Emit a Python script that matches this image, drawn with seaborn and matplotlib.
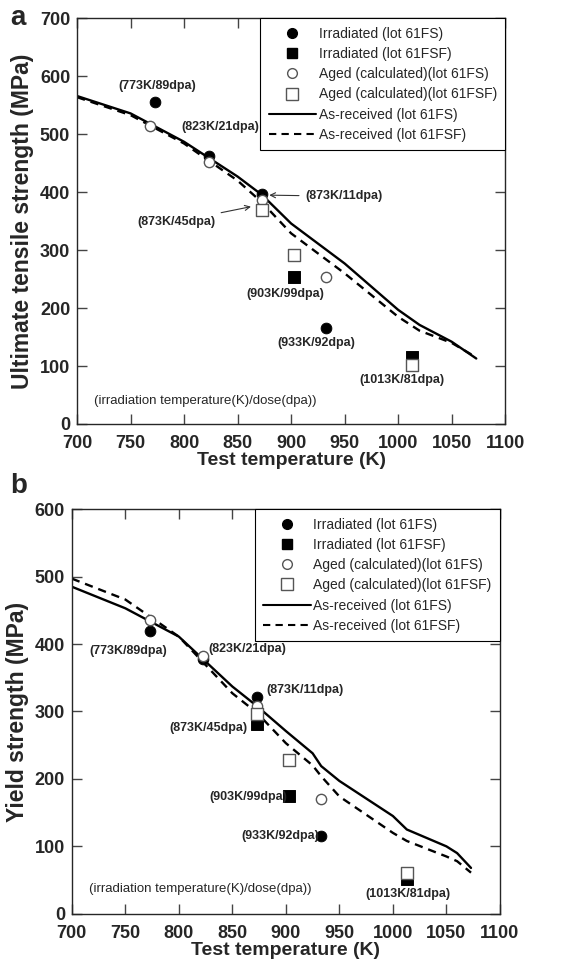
import numpy as np
import pandas as pd
import matplotlib
matplotlib.use("Agg")
import matplotlib.pyplot as plt
from matplotlib.lines import Line2D
import seaborn as sns

sns.set_style("ticks")
plt.rcParams['font.family'] = ['Liberation Sans', 'DejaVu Sans']

# ---- dados: painel a (UTS) ----
uts_T_curve = [700, 750, 800, 850, 873, 900, 950, 1000, 1020, 1050, 1073]
uts_fs_curve = [566, 536, 487, 427, 395, 346, 277, 197, 171, 142, 113]
uts_fsf_curve = [564, 533, 484, 420, 382, 329, 260, 185, 161, 140, 115]

uts_irr_fs_T = [773, 823, 873, 933]
uts_irr_fs = [555, 462, 397, 165]
uts_irr_fsf_T = [903, 1013]
uts_irr_fsf = [253, 115]
uts_aged_fs_T = [768, 823, 873, 933]
uts_aged_fs = [515, 453, 387, 253]
uts_aged_fsf_T = [873, 903, 1013]
uts_aged_fsf = [370, 292, 102]

# ---- dados: painel b (Yield) ----
ys_T_curve = [700, 750, 800, 850, 873, 900, 925, 933, 950, 1000, 1013, 1050, 1060, 1073]
ys_fs_curve = [485, 453, 411, 337, 308, 271, 238, 219, 197, 145, 125, 100, 90, 68]
ys_fsf_curve = [497, 466, 411, 327, 298, 253, 220, 204, 174, 120, 108, 85, 78, 61]

ys_irr_fs_T = [773, 823, 873, 933]
ys_irr_fs = [420, 378, 322, 115]
ys_irr_fsf_T = [873, 903, 1013]
ys_irr_fsf = [281, 175, 52]
ys_aged_fs_T = [773, 823, 873, 933]
ys_aged_fs = [436, 383, 308, 170]
ys_aged_fsf_T = [873, 903, 1013]
ys_aged_fsf = [296, 228, 60]

labels = ["Irradiated (lot 61FS)", "Irradiated (lot 61FSF)",
          "Aged (calculated)(lot 61FS)", "Aged (calculated)(lot 61FSF)",
          "As-received (lot 61FS)", "As-received (lot 61FSF)"]

notes_a = [("(773K/89dpa)", 775, 583), ("(823K/21dpa)", 834, 513),
           ("(903K/99dpa)", 895, 225), ("(933K/92dpa)", 924, 139),
           ("(1013K/81dpa)", 1004, 76)]
notes_b = [("(773K/89dpa)", 753, 389), ("(823K/21dpa)", 864, 392),
           ("(873K/11dpa)", 918, 332), ("(873K/45dpa)", 828, 276),
           ("(903K/99dpa)", 865, 173), ("(933K/92dpa)", 895, 115),
           ("(1013K/81dpa)", 1014, 29)]

fig = plt.figure(figsize=(5.84, 9.68), dpi=100)
ax_a = fig.add_axes([0.132, 0.562, 0.733, 0.419])
ax_b = fig.add_axes([0.123, 0.056, 0.733, 0.418])

open_ec = "#555555"


def painel(ax, T, fs, fsf, irr_fs, irr_fsf, aged_fs, aged_fsf, ymax, ylabel):
    curves = pd.DataFrame({"T": T, "fs": fs, "fsf": fsf})
    sns.lineplot(data=curves, x="T", y="fs", ax=ax, color="k", lw=1.7)
    sns.lineplot(data=curves, x="T", y="fsf", ax=ax, color="k", lw=1.7,
                 linestyle=(0, (3.5, 2.5)))
    sns.scatterplot(x=aged_fs[0], y=aged_fs[1], ax=ax, marker="o", s=55,
                    facecolor="white", edgecolor=open_ec, linewidth=1.0, zorder=3)
    sns.scatterplot(x=aged_fsf[0], y=aged_fsf[1], ax=ax, marker="s", s=75,
                    facecolor="white", edgecolor=open_ec, linewidth=1.0, zorder=3)
    sns.scatterplot(x=irr_fs[0], y=irr_fs[1], ax=ax, marker="o", s=60,
                    color="k", edgecolor="k", zorder=2)
    sns.scatterplot(x=irr_fsf[0], y=irr_fsf[1], ax=ax, marker="s", s=70,
                    color="k", edgecolor="k", zorder=2)

    ax.set_xlim(700, 1100)
    ax.set_ylim(0, ymax)
    ax.set_xticks(np.arange(700, 1101, 50))
    ax.set_yticks(np.arange(0, ymax + 1, 100))
    ax.tick_params(direction="in", length=7, width=1, top=True, right=True,
                   labelsize=13, pad=5, color="#444444")
    ax.tick_params(axis="x", pad=8)
    for lab in ax.get_xticklabels() + ax.get_yticklabels():
        lab.set_fontweight("bold")
    for sp in ax.spines.values():
        sp.set_linewidth(1.0)
    ax.set_xlabel("Test temperature (K)", fontsize=14, fontweight="bold", labelpad=0)
    ax.set_ylabel(ylabel, fontsize=16.5, fontweight="bold", labelpad=4)

    handles = [
        Line2D([], [], ls="none", marker="o", color="k", ms=7),
        Line2D([], [], ls="none", marker="s", color="k", ms=7),
        Line2D([], [], ls="none", marker="o", mfc="white", mec=open_ec, ms=7),
        Line2D([], [], ls="none", marker="s", mfc="white", mec=open_ec, ms=8),
        Line2D([], [], color="k", lw=1.5),
        Line2D([], [], color="k", lw=1.5, ls=(0, (3.5, 2.5))),
    ]
    leg = ax.legend(handles, labels, loc="upper right", bbox_to_anchor=(1.0, 1.0),
                    borderaxespad=0.0, fontsize=10, frameon=True, fancybox=False,
                    edgecolor="k", framealpha=1, handlelength=3.4,
                    handletextpad=0.2, labelspacing=0.45, borderpad=0.6)
    leg.get_frame().set_linewidth(0.8)

    ax.text(820, 40 if ymax == 700 else 37,
            "(irradiation temperature(K)/dose(dpa))", ha="center", va="center",
            fontsize=9.5)


painel(ax_a, uts_T_curve, uts_fs_curve, uts_fsf_curve,
       (uts_irr_fs_T, uts_irr_fs), (uts_irr_fsf_T, uts_irr_fsf),
       (uts_aged_fs_T, uts_aged_fs), (uts_aged_fsf_T, uts_aged_fsf),
       700, "Ultimate tensile strength (MPa)")
painel(ax_b, ys_T_curve, ys_fs_curve, ys_fsf_curve,
       (ys_irr_fs_T, ys_irr_fs), (ys_irr_fsf_T, ys_irr_fsf),
       (ys_aged_fs_T, ys_aged_fs), (ys_aged_fsf_T, ys_aged_fsf),
       600, "Yield strength (MPa)")

for txt, x, y in notes_a:
    ax_a.text(x, y, txt, ha="center", va="center", fontsize=9, fontweight="bold")
for txt, x, y in notes_b:
    ax_b.text(x, y, txt, ha="center", va="center", fontsize=9, fontweight="bold")

# setas do painel a
ax_a.annotate("(873K/11dpa)", xy=(877, 395), xytext=(913, 393), ha="left", va="center",
              fontsize=9, fontweight="bold",
              arrowprops=dict(arrowstyle="->", color="#333333", lw=0.8))
ax_a.annotate("(873K/45dpa)", xy=(865, 376), xytext=(829, 349), ha="right", va="center",
              fontsize=9, fontweight="bold",
              arrowprops=dict(arrowstyle="->", color="#333333", lw=0.8))

fig.text(0.018, 0.981, "a", fontsize=20, fontweight="bold", va="center")
fig.text(0.018, 0.498, "b", fontsize=20, fontweight="bold", va="center")

plt.savefig("out.png", dpi=100)
plt.close()
